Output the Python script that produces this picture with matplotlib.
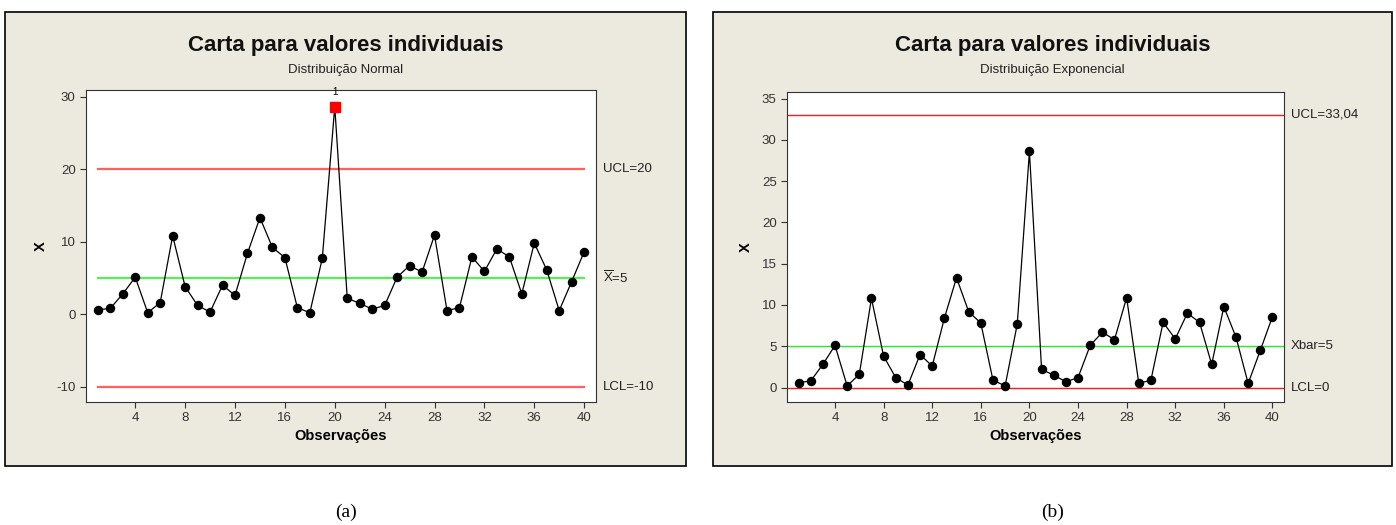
import numpy as np
import matplotlib
matplotlib.use('Agg')
import matplotlib.pyplot as plt
from matplotlib.patches import Rectangle

plt.rcParams['font.family'] = ['Liberation Sans', 'DejaVu Sans']
plt.rcParams['mathtext.fontset'] = 'custom'
plt.rcParams['mathtext.rm'] = 'Liberation Sans'
plt.rcParams['axes.unicode_minus'] = False

# observacoes (mesma amostra nas duas cartas)
obs = np.arange(1, 41)
x = [0.6, 0.8, 2.8, 5.1, 0.2, 1.6, 10.8, 3.8, 1.2, 0.3,
     4.0, 2.6, 8.4, 13.3, 9.2, 7.8, 0.9, 0.2, 7.7, 28.6,
     2.2, 1.5, 0.7, 1.2, 5.1, 6.7, 5.8, 10.9, 0.5, 0.9,
     7.9, 5.9, 9.0, 7.9, 2.8, 9.8, 6.1, 0.5, 4.5, 8.6]

# limites de controle
normal_lim = {'UCL': 20, 'CL': 5, 'LCL': -10}
exp_lim = {'UCL': 33.04, 'CL': 5, 'LCL': 0}
normal_labels = ['UCL=20', r'$\overline{\rm X}$=5', 'LCL=-10']
exp_labels = ['UCL=33,04', 'Xbar=5', 'LCL=0']
fora = [20]  # ponto acima do UCL na carta normal

W, H = 1396, 525
fig = plt.figure(figsize=(W / 100, H / 100), dpi=100)
fig.patch.set_facecolor('white')

bg = '#ECE9DF'


def px(x0, y0, x1, y1):
    return [x0 / W, 1 - y1 / H, (x1 - x0) / W, (y1 - y0) / H]


def carta(box, axbox, sub, lim, labels, ylim, yticks, cap, flag_out, full):
    b = px(*box)
    fig.add_artist(Rectangle((b[0], b[1]), b[2], b[3], transform=fig.transFigure,
                             facecolor=bg, edgecolor='black', lw=1.2, zorder=-5))
    cx = (box[0] + box[2]) / 2
    fig.text(cx / W, 1 - 45 / H, 'Carta para valores individuais', ha='center', va='center',
             fontsize=16, fontweight='bold', color='#111111')
    fig.text(cx / W, 1 - 70 / H, sub, ha='center', va='center', fontsize=9.5, color='#222222')
    fig.text(cx / W, 1 - 512 / H, cap, ha='center', va='center', fontsize=14,
             family='Liberation Serif')

    ax = fig.add_axes(px(*axbox))
    ax.set_facecolor('white')
    if full:
        # linhas de controle ocupando toda a largura
        for v, c in [(lim['UCL'], '#FF1A1A'), (lim['LCL'], '#FF1A1A'), (lim['CL'], '#22EE22')]:
            ax.axhline(v, color=c, lw=1.0, zorder=1)
    else:
        for v, c in [(lim['UCL'], '#FF6060'), (lim['LCL'], '#FF6060'), (lim['CL'], '#55F055')]:
            ax.plot([1, 40], [v, v], color=c, lw=1.6, zorder=1)
    ax.plot(obs, x, color='black', lw=0.9, marker='o', ms=5.8, zorder=2)
    if flag_out:
        for i in fora:
            ax.plot(obs[i - 1], x[i - 1], marker='s', ms=6.5, color='#FF0000', zorder=3)
            ax.annotate('1', (obs[i - 1], x[i - 1]), xytext=(0, 7), textcoords='offset points',
                        ha='center', va='bottom', fontsize=7)
    for v, t in zip([lim['UCL'], lim['CL'], lim['LCL']], labels):
        ax.annotate(t, (1, v), xycoords=('axes fraction', 'data'), xytext=(5, 0),
                    textcoords='offset points', ha='left', va='center', fontsize=9.5,
                    color='#222222', annotation_clip=False)
    ax.set_xlim(0.05, 40.95)
    ax.set_ylim(*ylim)
    ax.set_xticks(np.arange(4, 41, 4))
    ax.set_yticks(yticks)
    ax.tick_params(direction='out', length=4, width=0.8, labelsize=9.5, colors='#333333')
    for s in ax.spines.values():
        s.set_color('#333333')
        s.set_linewidth(0.8)
    ax.set_xlabel('Observações', fontsize=10.5, fontweight='bold', labelpad=3)
    ax.set_ylabel('X', fontsize=10.5, fontweight='bold', labelpad=6)
    return ax


carta((5, 12, 686, 466), (86, 90, 596, 402), 'Distribuição Normal', normal_lim,
      normal_labels, (-12.1, 30.9), [-10, 0, 10, 20, 30], '(a)', True, False)
carta((713, 12, 1392, 466), (787, 92, 1284, 402), 'Distribuição Exponencial', exp_lim,
      exp_labels, (-1.75, 35.8), [0, 5, 10, 15, 20, 25, 30, 35], '(b)', False, True)

fig.savefig('out.png', dpi=100, facecolor='white')
